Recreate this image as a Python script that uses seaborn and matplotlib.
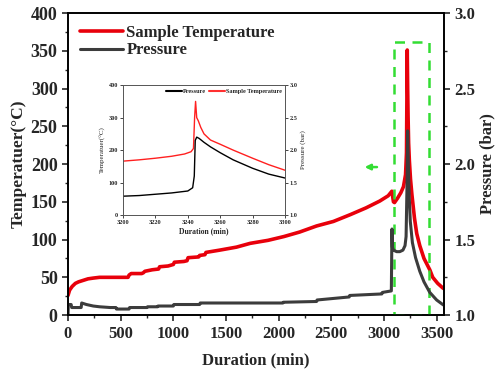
import pandas as pd
import seaborn as sns
import matplotlib.pyplot as plt
from matplotlib.lines import Line2D
from matplotlib.patches import Rectangle
from matplotlib.ticker import MultipleLocator

sns.set_style("ticks")
plt.rcParams['font.family'] = ['Liberation Serif', 'DejaVu Serif']
plt.rcParams['font.weight'] = 'bold'
plt.rcParams['axes.labelweight'] = 'bold'

RED = '#e8000b'
GRAY = '#3c3c3c'
GREEN = '#33dd33'

# main run: sample temperature (degC) vs duration (min)
temp_time = [0, 15, 40, 70, 100, 145, 190, 240, 300, 400, 500, 570, 580, 600,
             700, 715, 730, 800, 860, 870, 950, 1000, 1010, 1100, 1130, 1140,
             1240, 1250, 1300, 1310, 1440, 1600, 1730, 1900, 2050, 2200, 2360,
             2520, 2680, 2830, 2960, 3040, 3075, 3090, 3100, 3130, 3160, 3185,
             3205, 3214, 3221, 3225, 3229, 3234, 3241, 3252, 3265, 3290, 3311,
             3340, 3380, 3435, 3463, 3510, 3558, 3580]
temp_vals = [26, 33, 38, 42, 44, 46, 48, 49, 50, 50, 50, 50, 53, 55,
             55, 56, 58, 60, 61, 64, 65, 67, 70, 71, 72, 76,
             77, 79, 80, 83, 86, 90, 95, 99, 104, 110, 118,
             124, 133, 142, 151, 158, 164, 150, 149, 155, 162, 170,
             186, 215, 351, 300, 262, 228, 205, 180, 160, 128, 108,
             92, 75, 60, 50, 42, 36, 34]

# main run: pressure (bar) vs duration (min)
pres_time = [0, 3, 30, 35, 125, 130, 175, 240, 300, 400, 455, 460, 580, 585,
             750, 755, 850, 855, 1000, 1005, 1250, 1255, 2040, 2045, 2360,
             2365, 2670, 2675, 2980, 2985, 3070, 3076, 3080, 3090, 3120, 3150,
             3180, 3200, 3210, 3216, 3220, 3225, 3228, 3233, 3240, 3250, 3270,
             3300, 3340, 3380, 3435, 3500, 3558, 3580]
pres_vals = [1.00, 1.07, 1.07, 1.05, 1.05, 1.08, 1.07, 1.06, 1.055, 1.05,
             1.05, 1.04, 1.04, 1.05, 1.05, 1.055, 1.055, 1.06, 1.06, 1.07,
             1.07, 1.08, 1.08, 1.085, 1.09, 1.10, 1.12, 1.13, 1.14, 1.15,
             1.16, 1.57, 1.45, 1.43, 1.42, 1.42, 1.43, 1.46, 1.52, 1.75, 1.9,
             2.22, 2.12, 1.95, 1.78, 1.62, 1.48, 1.38, 1.29, 1.22, 1.15,
             1.10, 1.07, 1.06]

# inset run: zoom on 3200-3300 min
ins_temp_time = [3200, 3210, 3220, 3230, 3238, 3242, 3243.5, 3244.2, 3244.8,
                 3245.5, 3246.5, 3248, 3250, 3254, 3260, 3268, 3280, 3290, 3300]
ins_temp_vals = [166, 170, 175, 181, 188, 195, 205, 300, 350, 300, 290, 270,
                 250, 231, 218, 200, 175, 155, 138]
ins_pres_time = [3200, 3210, 3220, 3230, 3240, 3243, 3244, 3244.6, 3245.5,
                 3247, 3250, 3254, 3260, 3268, 3280, 3290, 3300]
ins_pres_vals = [1.29, 1.30, 1.32, 1.34, 1.37, 1.42, 1.60, 2.15, 2.20, 2.18,
                 2.12, 2.05, 1.96, 1.85, 1.72, 1.63, 1.57]

temp_df = pd.DataFrame({'Duration': temp_time, 'Temperature': temp_vals})
pres_df = pd.DataFrame({'Duration': pres_time, 'Pressure': pres_vals})
ins_temp_df = pd.DataFrame({'Duration': ins_temp_time, 'Temperature': ins_temp_vals})
ins_pres_df = pd.DataFrame({'Duration': ins_pres_time, 'Pressure': ins_pres_vals})

fig = plt.figure(figsize=(5, 3.72), dpi=100)
ax = fig.add_axes([0.136, 0.153, 0.752, 0.812])
ax2 = ax.twinx()

sns.lineplot(x='Duration', y='Temperature', data=temp_df, ax=ax,
             color=RED, linewidth=2.6, estimator=None)
sns.lineplot(x='Duration', y='Pressure', data=pres_df, ax=ax2,
             color=GRAY, linewidth=2.2, estimator=None)

ax.set_xlim(0, 3570)
ax.set_ylim(0, 400)
ax2.set_ylim(1.0, 3.0)
ax.xaxis.set_major_locator(MultipleLocator(500))
ax.xaxis.set_minor_locator(MultipleLocator(250))
ax.yaxis.set_major_locator(MultipleLocator(50))
ax.yaxis.set_minor_locator(MultipleLocator(25))
ax2.yaxis.set_major_locator(MultipleLocator(0.5))
ax2.yaxis.set_minor_locator(MultipleLocator(0.25))

ax.set_xlabel('Duration (min)', fontsize=12, labelpad=8)
ax.set_ylabel('Temperatuer(°C)', fontsize=12.5, labelpad=3)
ax2.set_ylabel('Pressure (bar)', fontsize=12, labelpad=3)
for a in (ax, ax2):
    a.tick_params(which='major', direction='out', length=4, width=1.2,
                  labelsize=12)
    a.tick_params(which='minor', direction='out', length=2.5, width=1)
    for s in a.spines.values():
        s.set_linewidth(1.2)
        s.set_color('black')
ax.tick_params(axis='y', labelsize=13)

# dashed box around the burst and the arrow
ax.add_patch(Rectangle((3093, 0), 332, 362, fill=False, edgecolor=GREEN,
                       linestyle=(0, (4, 3)), linewidth=1.8, zorder=5))
ax.annotate('', xy=(2790, 196), xytext=(2960, 196),
            arrowprops=dict(arrowstyle='-|>', color=GREEN, lw=1.8,
                            mutation_scale=8))

handles = [Line2D([], [], color=RED, linewidth=2.6),
           Line2D([], [], color=GRAY, linewidth=2.2)]
ax.legend(handles, ['Sample Temperature', 'Pressure'], loc='upper left',
          frameon=False, fontsize=12, handlelength=2.6, handletextpad=0.2,
          labelspacing=0.1, borderaxespad=0.3, bbox_to_anchor=(0.0, 1.0))

# inset
ins = fig.add_axes([0.246, 0.422, 0.324, 0.349])
ins2 = ins.twinx()
ins.set_facecolor('white')
sns.lineplot(x='Duration', y='Pressure', data=ins_pres_df, ax=ins2,
             color='black', linewidth=1.0, estimator=None)
sns.lineplot(x='Duration', y='Temperature', data=ins_temp_df, ax=ins,
             color='#ff2020', linewidth=1.0, estimator=None)
ins.set_xlim(3200, 3300)
ins.set_ylim(0, 400)
ins2.set_ylim(1.0, 3.0)
ins.xaxis.set_major_locator(MultipleLocator(20))
ins.yaxis.set_major_locator(MultipleLocator(100))
ins2.yaxis.set_major_locator(MultipleLocator(0.5))
ins.set_xlabel('Duration (min)', fontsize=5.5, labelpad=2)
ins.set_ylabel('Temperatuer(°C)', fontsize=5, labelpad=2, fontweight='normal')
ins2.set_ylabel('Pressure (bar)', fontsize=5, labelpad=2, fontweight='normal')
for a in (ins, ins2):
    a.tick_params(direction='out', length=2, width=0.6, labelsize=4.5, pad=1.5)
    for s in a.spines.values():
        s.set_linewidth(0.6)
        s.set_color('#555555')
ins_handles = [Line2D([], [], color='black', linewidth=1.5),
               Line2D([], [], color='#ff3030', linewidth=1.5)]
ins.legend(ins_handles, ['Pressure', 'Sample Temperature'], loc='upper right',
           ncol=2, frameon=False, fontsize=4.5, handlelength=2.5,
           handletextpad=0.2, columnspacing=0.5, borderaxespad=0.1)

plt.savefig('out.png', dpi=100)
